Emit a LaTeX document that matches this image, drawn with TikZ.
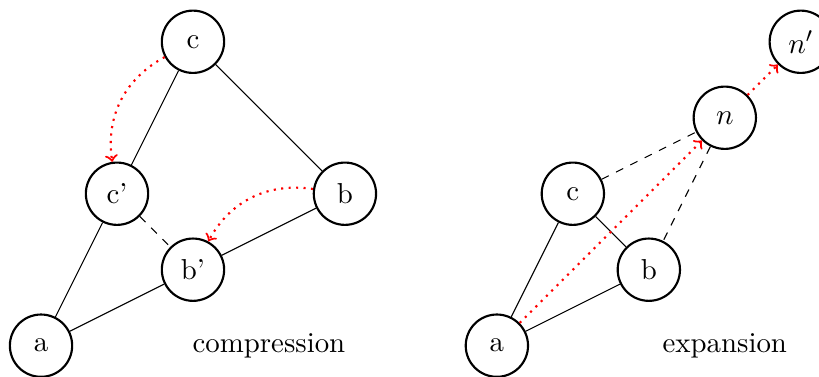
\documentclass[tikz,border=0pt]{standalone}
\usetikzlibrary{calc}

\tikzset{
  vert/.style={circle,draw,thick,minimum size=8.2mm,inner sep=0pt},
  move/.style={->,thick,dotted,red}
}

\begin{document}
\begin{tikzpicture}[font=\fontsize{10.8pt}{13pt}\selectfont]
\useasboundingbox (-0.54,-0.4) rectangle (10.24,4.55);
% compression
\node[vert] (a) at (0,0) {a};
\node[vert] (b1) at (2,1) {b'};
\node[vert] (c1) at (1,2) {c'};
\node[vert] (b) at (4,2) {b};
\node[vert] (c) at (2,4) {c};
\draw (a) -- (c1) -- (c) -- (b) -- (b1) -- (a);
\draw[dashed] (c1) -- (b1);
\draw[move] (c) to[bend right=35] (c1);
\draw[move] (b) to[bend right=35] (b1);
\node (lc) at (3,0) {compression};
% expansion
\node[vert] (A) at (6,0) {a};
\node[vert] (B) at (8,1) {b};
\node[vert] (C) at (7,2) {c};
\node[vert] (N) at (9,3) {$n$};
\node[vert] (N1) at (10,4) {$n'$};
\draw (A) -- (C) -- (B) -- (A);
\draw[dashed] (C) -- (N) -- (B);
\draw[move] (A) -- (N);
\draw[move] (N) -- (N1);
\node (le) at (9,0) {expansion};
\end{tikzpicture}
\end{document}
